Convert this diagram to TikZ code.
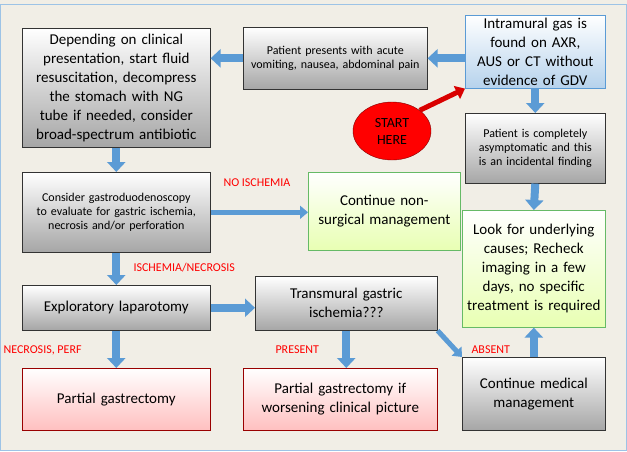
\documentclass[tikz,border=0pt]{standalone}
\usepackage{fontspec}
\setmainfont{Carlito}
\usetikzlibrary{arrows.meta,shapes.geometric,calc}
\definecolor{bg}{HTML}{F1EEE6}
\definecolor{ablue}{HTML}{5B9BD5}
\newcommand\myNoHy{\hyphenpenalty10000\relax}
\tikzset{
 box/.style={draw=black!80,line width=0.6pt,top color=white,bottom color=black!35,align=center,inner sep=2pt,font=\fontsize{12}{14}\selectfont\myNoHy},
 big/.style={font=\fontsize{15}{19}\selectfont\myNoHy},
 bluebox/.style={box,big,draw=ablue,top color=white,bottom color=ablue!45},
 greenbox/.style={box,big,draw=green!55!black!60,top color=white,bottom color=green!30!yellow!30},
 pinkbox/.style={box,big,draw=red!60!black,top color=white,bottom color=red!25},
 lbl/.style={text=red,font=\fontsize{12}{14}\selectfont},
 barr/.style={ablue,line width=8pt,-{Triangle[width=18pt,length=10pt]}},
 thinarr/.style={ablue,line width=5pt,-{Triangle[width=13pt,length=8pt]}},
}
\begin{document}
\begin{tikzpicture}[x=1pt,y=-1pt]
\fill[bg] (0,0) rectangle (627,451);
\draw[ablue!60,line width=1pt] (0.5,4) rectangle (626.5,450.5);
\useasboundingbox (0,0) rectangle (627,451);
\def\bx#1#2#3#4#5#6#7{\node[#2,minimum width={#5-#3},minimum height={#6-#4},text width={#5-#3-8},anchor=north west] (#1) at (#3,#4) {#7};}
\bx{A}{box,big}{22}{28}{210}{147}{Depending on clinical presentation, start fluid resuscitation, decompress the stomach with NG tube if needed, consider broad-spectrum antibiotic}
\bx{B}{box}{243}{27}{427}{89}{Patient presents with acute vomiting, nausea, abdominal pain}
\bx{C}{bluebox}{465}{15}{605}{88}{Intramural gas is found on AXR, AUS or CT without evidence of GDV}
\bx{D}{box}{465}{113}{605}{183}{Patient is completely asymptomatic and this is an incidental finding}
\bx{E}{box}{22}{172}{210}{252}{Consider gastroduodenoscopy to evaluate for gastric ischemia, necrosis and/or perforation}
\bx{N}{greenbox}{308}{172}{460}{250}{Continue non-surgical management}
\bx{L}{greenbox}{462}{210}{605}{327}{Look for underlying causes; Recheck imaging in a few days, no specific treatment is required}
\bx{F}{box,big}{22}{285}{210}{330}{Exploratory laparotomy}
\bx{G}{box,big}{255}{276}{437}{330}{Transmural gastric ischemia???}
\bx{H}{pinkbox}{22}{368}{210}{430}{Partial gastrectomy}
\bx{I}{pinkbox}{243}{368}{437}{430}{Partial gastrectomy if worsening clinical picture}
\bx{J}{box,big}{462}{357}{605}{430}{Continue medical management}
\node[ellipse,draw=red!50!black,fill=red,minimum width=78pt,minimum height=58pt,align=center,font=\fontsize{14}{17}\selectfont] (S) at (392,131) {START\\HERE};
\draw[barr] (C.west|-B.east) -- (B.east);
\draw[barr] (B.west) -- (A.east|-B.west);
\draw[barr] (A.south) -- (E.north);
\draw[barr] (C.south) -- (D.north);
\draw[barr] (D.south) -- (L.north);
\draw[thinarr] (E.east) -- (N.west|-E.east);
\draw[barr] (E.south) -- (F.north);
\draw[barr] (F.east) -- (G.west|-F.east);
\draw[barr] (F.south) -- (H.north);
\draw[barr] (G.south) -- (G.south|-I.north);
\draw[thinarr] (G.south east) -- (J.north west);
\draw[barr] (J.north) -- (L.south);
\draw[red!85!black,line width=5pt,-{Triangle[width=14pt,length=9pt]}] (S.north east) -- (C.south west);
\node[lbl,anchor=west] (l1) at (220,183) {NO ISCHEMIA};
\node[lbl,anchor=west] (l2) at (130,268) {ISCHEMIA/NECROSIS};
\node[lbl,anchor=west] (l3) at (0,350) {NECROSIS, PERF};
\node[lbl,anchor=west] (l4) at (272,350) {PRESENT};
\node[lbl,anchor=west] (l5) at (468,350) {ABSENT};
\end{tikzpicture}
\end{document}
